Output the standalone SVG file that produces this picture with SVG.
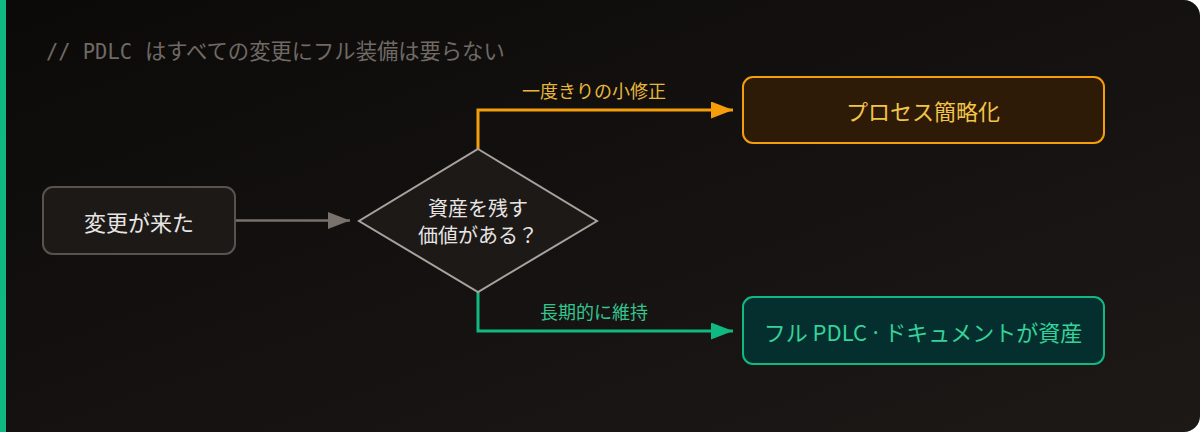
<svg xmlns="http://www.w3.org/2000/svg" width="1200" height="432" viewBox="0 0 1200 432">
  <defs>
    <linearGradient id="bg" x1="0" y1="0" x2="1" y2="1">
      <stop offset="0" stop-color="#0c0a09"/>
      <stop offset="1" stop-color="#1c1917"/>
    </linearGradient>
    <marker id="ah-gray" viewBox="0 0 22 17" refX="22" refY="8.5" markerWidth="22" markerHeight="17" markerUnits="userSpaceOnUse" orient="auto">
      <path d="M0,0 L22,8.5 L0,17 Z" fill="#78716c"/>
    </marker>
    <marker id="ah-orange" viewBox="0 0 22 17" refX="22" refY="8.5" markerWidth="22" markerHeight="17" markerUnits="userSpaceOnUse" orient="auto">
      <path d="M0,0 L22,8.5 L0,17 Z" fill="#f59e0b"/>
    </marker>
    <marker id="ah-green" viewBox="0 0 22 17" refX="22" refY="8.5" markerWidth="22" markerHeight="17" markerUnits="userSpaceOnUse" orient="auto">
      <path d="M0,0 L22,8.5 L0,17 Z" fill="#10b981"/>
    </marker>
  </defs>
  <style>
    .jp { font-family: "Noto Sans CJK JP", "Noto Sans", sans-serif; text-anchor: middle; dominant-baseline: central; }
    .title { font-family: "DejaVu Sans Mono", "Noto Sans CJK JP", monospace; font-size: 20.4px; fill: #6f6a65; }
    .titlejp { font-family: "Noto Sans CJK JP", sans-serif; font-size: 21.3px; }
    .node { font-size: 22px; fill: #e7e5e4; }
    .dot { font-family: "Noto Sans", sans-serif; }
    .edge { fill: none; stroke-width: 3; }
  </style>
  <rect width="1200" height="432" fill="#ffffff"/>
  <path d="M6,0 H1184 A16,16 0 0 1 1200,16 V416 A16,16 0 0 1 1184,432 H6 Z" fill="url(#bg)"/>
  <rect x="0" y="0" width="6" height="432" fill="#10b981"/>

  <g id="title">
    <text class="title" x="46" y="59">// PDLC <tspan class="titlejp" x="145">はすべての変更にフル装備は要らない</tspan></text>
  </g>

  <g id="connectors">
    <line x1="236" y1="220.5" x2="350" y2="220.5" stroke="#78716c" stroke-width="2.5" marker-end="url(#ah-gray)"/>
    <path class="edge" d="M478,149 V110 H733" stroke="#f59e0b" marker-end="url(#ah-orange)"/>
    <path class="edge" d="M478,292 V331 H733" stroke="#10b981" marker-end="url(#ah-green)"/>
    <text class="jp" x="594" y="90" font-size="18" fill="#e8b73a">一度きりの小修正</text>
    <text class="jp" x="594" y="311" font-size="18" fill="#34c48f">長期的に維持</text>
  </g>

  <g id="node-change">
    <rect x="43" y="187" width="192" height="67" rx="10" fill="#1c1917" stroke="#57534e" stroke-width="2"/>
    <text class="jp node" x="139" y="220.5">変更が来た</text>
  </g>

  <g id="node-decision">
    <polygon points="478,149 597,221 478,292 359,221" fill="#1c1917" stroke="#a8a29e" stroke-width="2"/>
    <text class="jp" x="478" y="207" font-size="20" fill="#e7e5e4">資産を残す</text>
    <text class="jp" x="478" y="234" font-size="20" fill="#e7e5e4">価値がある？</text>
  </g>

  <g id="node-simplify">
    <rect x="743" y="77" width="361" height="66" rx="10" fill="#2d1b07" stroke="#f59e0b" stroke-width="2"/>
    <text class="jp node" x="923" y="110" style="fill:#f3c44a">プロセス簡略化</text>
  </g>

  <g id="node-full">
    <rect x="743" y="297" width="361" height="67" rx="10" fill="#042f2e" stroke="#10b981" stroke-width="2"/>
    <text class="jp node" x="923" y="331" style="fill:#34d399">フル PDLC<tspan class="dot"> · </tspan>ドキュメントが資産</text>
  </g>
</svg>
